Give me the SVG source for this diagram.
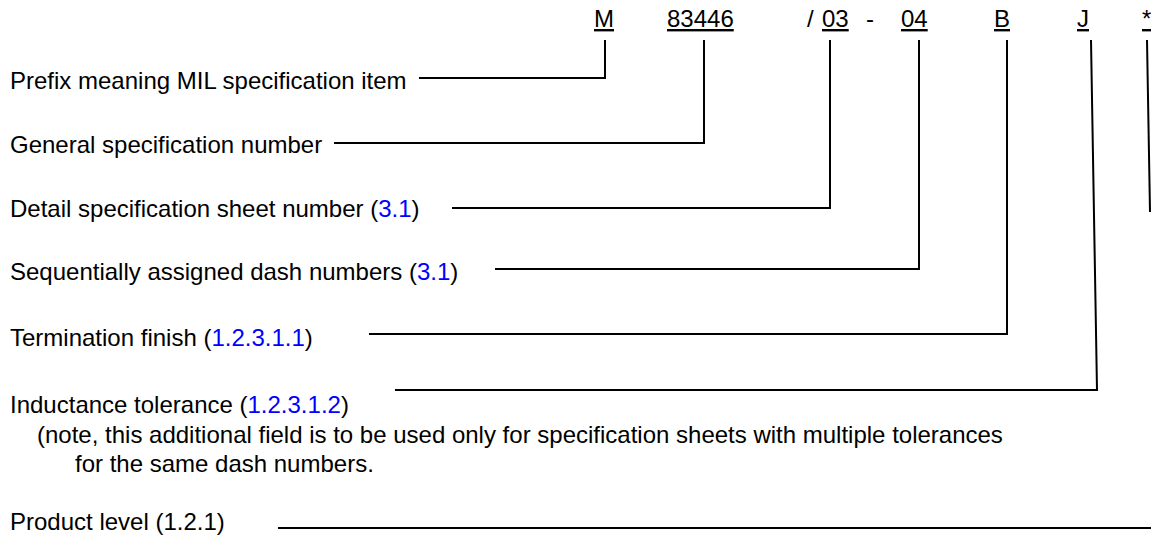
<svg xmlns="http://www.w3.org/2000/svg" width="1151" height="544" viewBox="0 0 1151 544">
<style>
text{font-family:"Liberation Sans",Arial,sans-serif;font-size:24px;fill:#000}
.u{text-decoration:underline}
.lnk{fill:#0000ff}
.c{fill:none;stroke:#000;stroke-width:2}
</style>
<rect width="1151" height="544" fill="#fff"/>
<g id="code">
<text class="u" x="594" y="27">M</text>
<text class="u" x="667" y="27">83446</text>
<text x="807" y="27">/</text>
<text class="u" x="822" y="27">03</text>
<text x="866" y="27">-</text>
<text class="u" x="901" y="27">04</text>
<text class="u" x="994" y="27">B</text>
<text class="u" x="1077" y="27">J</text>
<text class="u" x="1142" y="27">*</text>
</g>
<g id="prefix"><text x="10" y="89">Prefix meaning MIL specification item</text></g>
<g id="general"><text x="10" y="153">General specification number</text></g>
<g id="detail"><text x="10" y="217">Detail specification sheet number (<tspan class="lnk">3.1</tspan>)</text></g>
<g id="dash"><text x="10" y="280">Sequentially assigned dash numbers (<tspan class="lnk">3.1</tspan>)</text></g>
<g id="termination"><text x="10" y="346">Termination finish (<tspan class="lnk">1.2.3.1.1</tspan>)</text></g>
<g id="inductance">
<text x="10" y="413">Inductance tolerance (<tspan class="lnk">1.2.3.1.2</tspan>)</text>
<text x="37" y="443">(note, this additional field is to be used only for specification sheets with multiple tolerances</text>
<text x="75" y="472">for the same dash numbers.</text>
</g>
<g id="product"><text x="10" y="530">Product level (1.2.1)</text></g>
<g id="connectors">
<polyline class="c" points="419,78 605,78 605,40"/>
<polyline class="c" points="334,143 704,143 704,40"/>
<polyline class="c" points="452,208 830,208 830,40"/>
<polyline class="c" points="495,269 919,269 919,40"/>
<polyline class="c" points="369,334 1007,334 1007,40"/>
<polyline class="c" points="395,390 1097,390 1091,40"/>
<line class="c" x1="1147" y1="40" x2="1150" y2="212"/>
<line class="c" x1="278" y1="528" x2="1151" y2="528"/>
</g>
</svg>
